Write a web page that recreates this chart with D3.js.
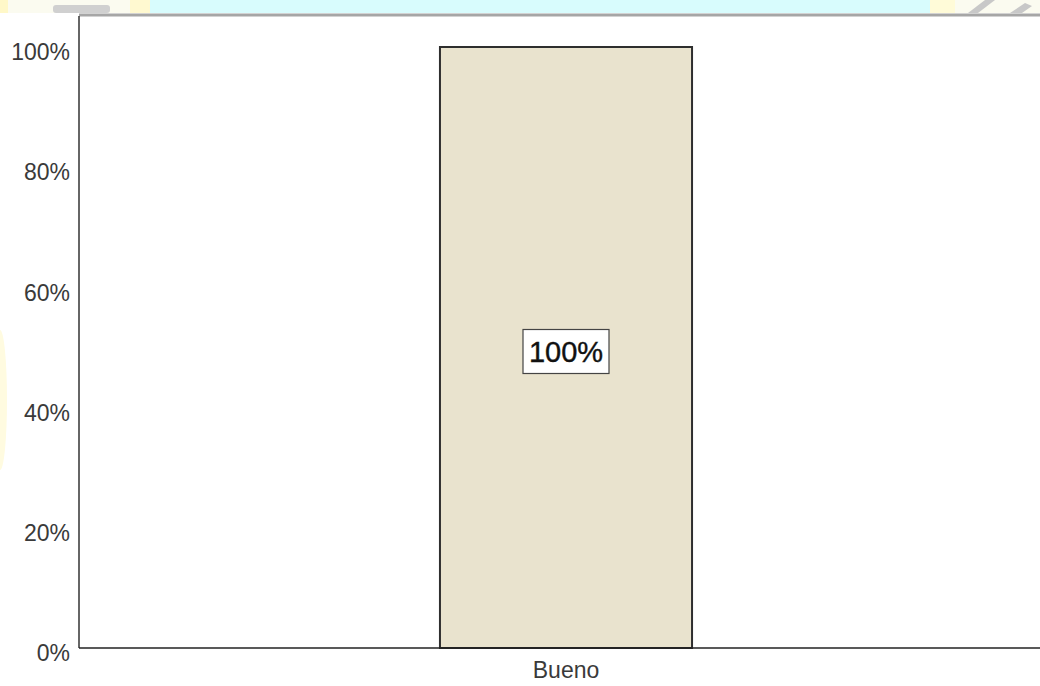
<!DOCTYPE html>
<html lang="es">
  <head>
    <meta charset="utf-8">
    <title>Bueno</title>
    <script src="https://cdn.jsdelivr.net/npm/d3@7"></script>
    <style>
html, body {
  margin: 0;
  padding: 0;
  background: #fff;
}
svg {
  display: block;
  font-family: "Liberation Sans", Arial, sans-serif;
}
.tick text {
  font-size: 23px;
  fill: #3a3a3a;
}
    </style>
  </head>
  <body>
    <svg id="chart" width="1040" height="686"></svg>
    <script>

// data
var categories = ["Bueno"];
var values = [1.0];
var yTicks = [0, 0.2, 0.4, 0.6, 0.8, 1.0];

var svg = d3.select("#chart");
var plotLeft = 79, plotTop = 15, plotBottom = 648, plotRight = 1053;

// faint watermark band above the plot (as in the scan)
var bg = svg.append("g");
bg.append("rect").attr("x", 0).attr("y", 0).attr("width", 1040).attr("height", 13).attr("fill", "#fbfbf0");
bg.append("rect").attr("x", 150).attr("y", 0).attr("width", 780).attr("height", 13).attr("fill", "#d8fcfd");
bg.append("rect").attr("x", 0).attr("y", 0).attr("width", 8).attr("height", 13).attr("fill", "#fff8c8");
bg.append("rect").attr("x", 130).attr("y", 0).attr("width", 20).attr("height", 13).attr("fill", "#fff9d0");
bg.append("rect").attr("x", 930).attr("y", 0).attr("width", 25).attr("height", 13).attr("fill", "#fffbd8");
bg.append("path").attr("d", "M968,13 L985,0 L995,0 L978,13 Z").attr("fill", "#c8c8c8");
bg.append("path").attr("d", "M1010,13 L1025,3 L1032,6 L1022,13 Z").attr("fill", "#c8c8c8");
bg.append("rect").attr("x", 53).attr("y", 5).attr("width", 57).attr("height", 8).attr("rx", 3).attr("fill", "#d0d0d0");
bg.append("rect").attr("x", 6).attr("y", 13).attr("width", 1034).attr("height", 673).attr("fill", "#fff");
bg.append("ellipse").attr("cx", 0).attr("cy", 400).attr("rx", 7).attr("ry", 70).attr("fill", "#fffbe0");

var x = d3.scaleBand()
    .domain(categories)
    .range([plotLeft, plotRight])
    .paddingInner(0.5)
    .paddingOuter(0.716);

var y = d3.scaleLinear()
    .domain([0, 1])
    .range([plotBottom, 47]);

// top frame line
svg.append("line")
    .attr("x1", plotLeft).attr("x2", 1040)
    .attr("y1", plotTop).attr("y2", plotTop)
    .attr("stroke", "#a6a6a6").attr("stroke-width", 3);

// bars
svg.selectAll(".bar")
    .data(values)
  .enter().append("rect")
    .attr("class", "bar")
    .attr("x", function(d, i) { return x(categories[i]); })
    .attr("y", function(d) { return y(d); })
    .attr("width", x.bandwidth())
    .attr("height", function(d) { return plotBottom - y(d); })
    .attr("fill", "#e9e3ce")
    .attr("stroke", "#2e2e2e")
    .attr("stroke-width", 2);

// y axis
var yAxis = svg.append("g")
    .attr("transform", "translate(" + plotLeft + ",0)")
    .call(d3.axisLeft(y).tickValues(yTicks).tickSize(0).tickPadding(9).tickFormat(d3.format(".0%")));
yAxis.select(".domain").attr("stroke", "#333").attr("stroke-width", 1.5)
    .attr("d", "M0," + plotBottom + "V" + (plotTop + 1));
yAxis.selectAll(".tick text").attr("dy", "0.55em");

// x axis
var xAxis = svg.append("g")
    .attr("transform", "translate(0," + plotBottom + ")")
    .call(d3.axisBottom(x).tickSize(0).tickPadding(14));
xAxis.select(".domain").attr("stroke", "#222").attr("stroke-width", 1.5)
    .attr("d", "M" + plotLeft + ",0H1040");

// value labels in a box
var lab = svg.selectAll(".lab")
    .data(values)
  .enter().append("g")
    .attr("class", "lab")
    .attr("transform", function(d, i) {
      return "translate(" + (x(categories[i]) + x.bandwidth() / 2) + "," + (y(d / 2) + 4) + ")";
    });
lab.append("rect")
    .attr("x", -43).attr("y", -22)
    .attr("width", 86).attr("height", 44)
    .attr("fill", "#fff").attr("stroke", "#444").attr("stroke-width", 1.2);
lab.append("text")
    .attr("text-anchor", "middle")
    .attr("dy", "0.36em")
    .attr("font-size", 29)
    .attr("stroke", "#111").attr("stroke-width", 0.4)
    .attr("fill", "#111")
    .text(function(d) { return d3.format(".0%")(d); });

    </script>
  </body>
</html>
